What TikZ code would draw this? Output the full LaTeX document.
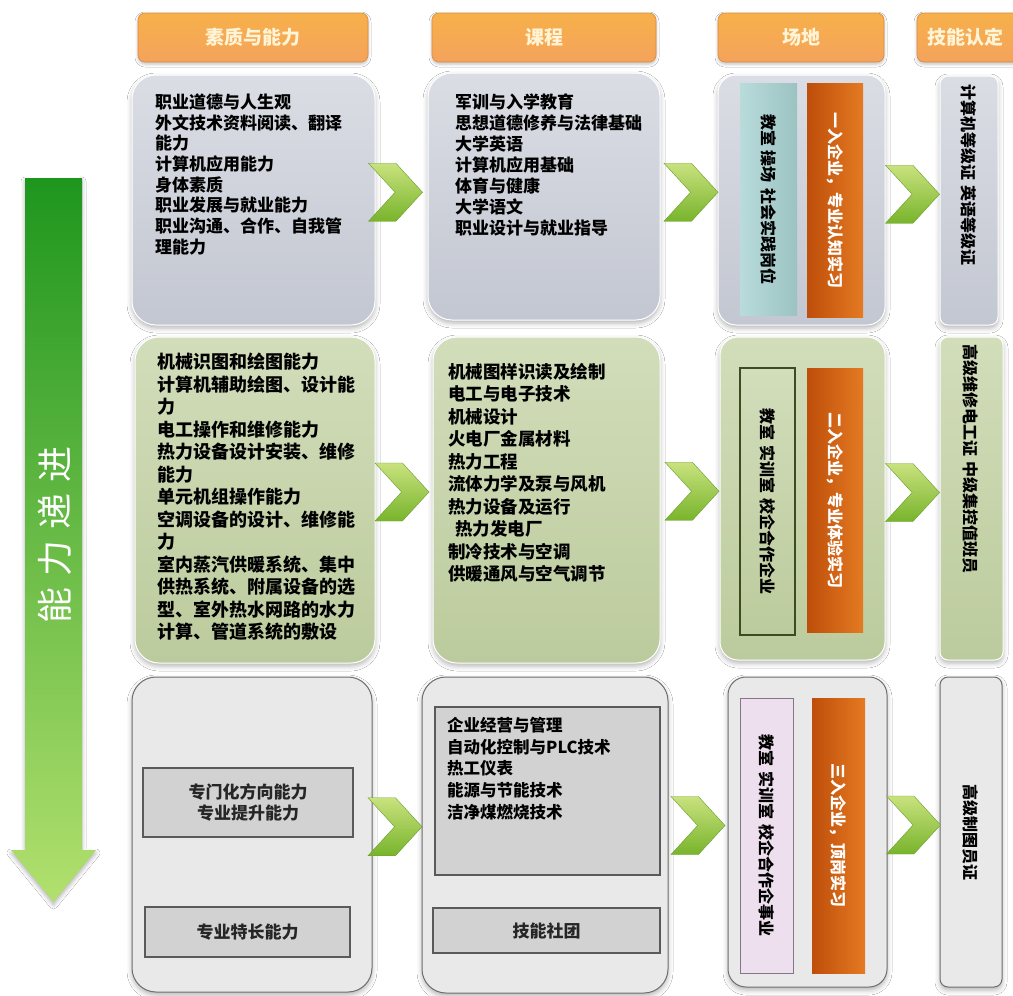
\documentclass[tikz,border=0pt]{standalone}
\usepackage{fontspec}
\setmainfont{Noto Sans CJK SC}
\usetikzlibrary{fit,calc,shapes.symbols,shadows.blur}
\definecolor{grayT}{HTML}{DADDE4}
\definecolor{grayB}{HTML}{C3C7D1}
\definecolor{greenT}{HTML}{D2DDBA}
\definecolor{greenB}{HTML}{BCCB9D}
\definecolor{lightF}{HTML}{E9E9E9}
\definecolor{lightD}{HTML}{6E6E6E}
\definecolor{innerF}{HTML}{D2D2D2}
\definecolor{innerD}{HTML}{5A5A5A}
\definecolor{hdrT}{HTML}{F7B04A}
\definecolor{hdrM}{HTML}{F28C2C}
\definecolor{hdrB}{HTML}{F4A35C}
\definecolor{hdrD}{HTML}{D98A40}
\definecolor{hdrTxt}{HTML}{FFF4D6}
\definecolor{chevT}{HTML}{C9E27E}
\definecolor{chevB}{HTML}{78B42C}
\definecolor{chevD}{HTML}{6A9E2A}
\definecolor{arrT}{HTML}{1E961E}
\definecolor{arrB}{HTML}{B2E06E}
\definecolor{tealL}{HTML}{B9DCDB}
\definecolor{tealR}{HTML}{9CC2C2}
\definecolor{oranL}{HTML}{BE4E0A}
\definecolor{oranR}{HTML}{E47A22}
\definecolor{olive}{HTML}{3E4A20}
\definecolor{pinkF}{HTML}{EEDFEE}
\definecolor{pinkD}{HTML}{85758A}
\begin{document}
\begin{tikzpicture}[x=1pt,y=-1pt,
  box/.style={rounded corners=24pt, inner sep=0pt,
    blur shadow={shadow xshift=0pt,shadow yshift=-3pt,shadow blur radius=5pt,shadow opacity=30}},
  grayrow/.style={box, top color=grayT, bottom color=grayB, draw=white, line width=1pt},
  greenrow/.style={box, top color=greenT, bottom color=greenB, draw=white, line width=1pt},
  lightrow/.style={box, fill=lightF, draw=lightD, line width=1pt},
  placebox/.style={rounded corners=18pt},
  certbox/.style={rounded corners=8pt},
  innerbox/.style={inner sep=0pt, fill=innerF, draw=innerD, line width=1.2pt},
  hdr/.style={rounded corners=7pt, inner sep=0pt, top color=hdrT, middle color=hdrM,
    bottom color=hdrB, draw=hdrD, line width=0.6pt,
    blur shadow={shadow xshift=0pt,shadow yshift=-2pt,shadow blur radius=3pt,shadow opacity=25}},
  hdrtext/.style={text=hdrTxt, font=\fontsize{19}{19}\selectfont\bfseries},
  body/.style={anchor=north west, inner sep=0pt, align=left, text=black},
  vtext/.style={rotate=-90, inner sep=0pt, text=black, font=\fontsize{16}{16}\selectfont\bfseries},
  tealbar/.style={inner sep=0pt, left color=tealL, right color=tealR},
  oranbar/.style={inner sep=0pt, left color=oranL, right color=oranR},
  chev/.style={signal, signal to=east, signal from=west, signal pointer angle=95,
    minimum width=54pt, minimum height=58pt, inner sep=0pt,
    top color=chevT, bottom color=chevB, draw=chevD, line width=0.4pt},
  ctext/.style={inner sep=0pt, align=center, text=black!85, font=\fontsize{17}{21}\selectfont\bfseries}
]
\clip (0,0) rectangle (1013,996);
\fill[white] (0,0) rectangle (1013,996);

% headers
\node[hdr, fit={(138,13) (368,62)}] (h1) {};
\node[hdr, fit={(432,13) (656,62)}] (h2) {};
\node[hdr, fit={(718,13) (884,62)}] (h3) {};
\node[hdr, fit={(917,13) (1030,62)}] (h4) {};
\node[hdrtext] (h1t) at (h1.center) {素质与能力};
\node[hdrtext] (h2t) at (h2.center) {课程};
\node[hdrtext] (h3t) at (h3.center) {场地};
\node[hdrtext] (h4t) at (965,37.5) {技能认定};

% left arrow
\path[top color=arrT, bottom color=arrB,
  blur shadow={shadow xshift=0pt,shadow yshift=-3pt,shadow blur radius=4pt,shadow opacity=30}]
  (25,178) -- (82,178) -- (82,850) -- (96,850) -- (53.5,902) -- (11,850) -- (25,850) -- cycle;
\node[rotate=90, text=white, font=\fontsize{36}{36}\selectfont] (arrt) at (55,535)
  {能\hspace{11pt}力\hspace{11pt}递\hspace{11pt}进};

% row 1
\node[grayrow, fit={(132,75) (375,325)}] (r1c1) {};
\node[grayrow, fit={(428,73) (660,320)}] (r1c2) {};
\node[grayrow, placebox, fit={(718,75) (885,325)}] (r1c3) {};
\node[grayrow, certbox, fit={(940,76) (998,325)}] (r1c4) {};
\node[body, font=\fontsize{17}{20.7}\selectfont\bfseries] (r1c1t) at (155,93.5)
  {职业道德与人生观\\外文技术资料阅读、翻译\\能力\\计算机应用能力\\身体素质\\职业发展与就业能力\\职业沟通、合作、自我管\\理能力};
\node[body, font=\fontsize{17}{21}\selectfont\bfseries] (r1c2t) at (455,93.5)
  {军训与入学教育\\思想道德修养与法律基础\\大学英语\\计算机应用基础\\体育与健康\\大学语文\\职业设计与就业指导};
\node[tealbar, fit={(740,83) (797,315)}] (r1p1) {};
\node[oranbar, fit={(807,83) (863,317)}] (r1p2) {};
\node[vtext] (r1p1t) at (r1p1.center) {教室\hspace{5pt}操场\hspace{5pt}社会实践岗位};
\node[vtext, text=white] (r1p2t) at (r1p2.center) {一入企业，专业认知实习};
\node[vtext, anchor=west] (r1c4t) at (968.5,84) {计算机等级证\hspace{5pt}英语等级证};

% row 2
\node[greenrow, fit={(135,337) (375,663)}] (r2c1) {};
\node[greenrow, fit={(433,337) (660,663)}] (r2c2) {};
\node[greenrow, placebox, fit={(720,337) (885,660)}] (r2c3) {};
\node[greenrow, certbox, fit={(940,337) (1003,660)}] (r2c4) {};
\node[body, font=\fontsize{18}{22.5}\selectfont\bfseries] (r2c1t) at (157,353)
  {机械识图和绘图能力\\计算机辅助绘图、设计能\\力\\电工操作和维修能力\\热力设备设计安装、维修\\能力\\单元机组操作能力\\空调设备的设计、维修能\\力\\室内蒸汽供暖系统、集中\\供热系统、附属设备的选\\型、室外热水网路的水力\\计算、管道系统的敷设};
\node[body, font=\fontsize{17.5}{22.5}\selectfont\bfseries] (r2c2t) at (448,363)
  {机械图样识读及绘制\\电工与电子技术\\机械设计\\火电厂金属材料\\热力工程\\流体力学及泵与风机\\热力设备及运行\\\hspace*{7pt}热力发电厂\\制冷技术与空调\\供暖通风与空气调节};
\node[inner sep=0pt, top color=greenT, bottom color=greenB, draw=olive, line width=1.5pt,
  fit={(740,368) (795,635)}] (r2p1) {};
\node[oranbar, fit={(807,368) (863,632)}] (r2p2) {};
\node[vtext] (r2p1t) at (r2p1.center) {教室\hspace{5pt}实训室\hspace{5pt}校企合作企业};
\node[vtext, text=white] (r2p2t) at (r2p2.center) {二入企业，专业体验实习};
\node[vtext, anchor=west] (r2c4t) at (971,344) {高级维修电工证\hspace{5pt}中级集控值班员};

% row 3
\node[lightrow, fit={(132,677) (372,992)}] (r3c1) {};
\node[lightrow, fit={(422,677) (668,993)}] (r3c2) {};
\node[lightrow, placebox, fit={(728,677) (887,987)}] (r3c3) {};
\node[lightrow, certbox, fit={(940,677) (1002,987)}] (r3c4) {};
\node[innerbox, fit={(143,768) (353,837)}] (r3a) {};
\node[innerbox, fit={(145,907) (350,957)}] (r3b) {};
\node[ctext] (r3at) at (r3a.center) {专门化方向能力\\专业提升能力};
\node[ctext] (r3bt) at (r3b.center) {专业特长能力};
\node[innerbox, fit={(435,707) (660,875)}] (r3c) {};
\node[innerbox, fit={(433,908) (660,953)}] (r3d) {};
\node[body, font=\fontsize{16.5}{21.7}\selectfont\bfseries] (r3ct) at (447,717)
  {企业经营与管理\\自动化控制与PLC技术\\热工仪表\\能源与节能技术\\洁净煤燃烧技术};
\node[ctext] (r3dt) at (r3d.center) {技能社团};
\node[inner sep=0pt, fill=pinkF, draw=pinkD, line width=0.8pt, fit={(740,698) (793,973)}] (r3p1) {};
\node[oranbar, fit={(812,698) (865,973)}] (r3p2) {};
\node[vtext] (r3p1t) at (r3p1.center) {教室\hspace{5pt}实训室\hspace{5pt}校企合作企事业};
\node[vtext, text=white] (r3p2t) at (r3p2.center) {三入企业，顶岗实习};
\node[vtext] (r3c4t) at (r3c4.center) {高级制图员证};

% chevrons
\node[chev] (k11) at ($(r1c1.east)!0.5!(r1c2.west)+(-6,-6)$) {};
\node[chev] (k12) at ($(r1c2.east)!0.5!(r1c3.west)+(2,-6)$) {};
\node[chev] (k13) at ($(r1c3.east)!0.5!(r1c4.west)+(0,-6)$) {};
\node[chev] (k21) at ($(r2c1.east)!0.5!(r2c2.west)+(-2,-8)$) {};
\node[chev] (k22) at ($(r2c2.east)!0.5!(r2c3.west)+(2,-8)$) {};
\node[chev] (k23) at ($(r2c3.east)!0.5!(r2c4.west)+(0,-6)$) {};
\node[chev] (k31) at ($(r3c1.east)!0.5!(r3c2.west)+(-2,-8)$) {};
\node[chev] (k32) at ($(r3c2.east)!0.5!(r3c3.west)+(0,-8)$) {};
\node[chev] (k33) at ($(r3c3.east)!0.5!(r3c4.west)+(0,-7)$) {};
\end{tikzpicture}
\end{document}
